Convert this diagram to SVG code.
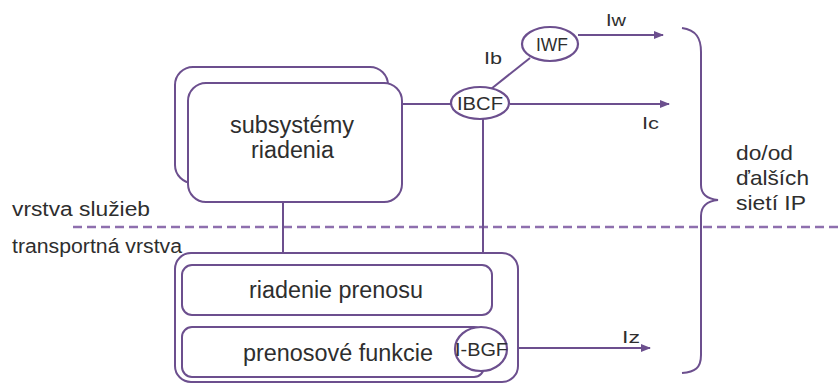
<svg xmlns="http://www.w3.org/2000/svg" width="840" height="384" viewBox="0 0 840 384">
  <style>
    .box { fill: #ffffff; stroke: #6c4f8e; stroke-width: 2; }
    .ell { fill: #ffffff; stroke: #6c4f8e; stroke-width: 2.2; }
    .ln { fill: none; stroke: #6c4f8e; stroke-width: 2; }
    .dash { fill: none; stroke: #8e6fae; stroke-width: 2.5; stroke-dasharray: 9 5; }
    text { font-family: "Liberation Sans", Arial, sans-serif; fill: #2e2e2e; }
    .big { font-size: 23px; }
    .ext { font-size: 21px; }
    .side { font-size: 20px; }
    .mid { font-size: 19px; }
    .sm { font-size: 16px; }
  </style>
  <defs>
    <marker id="arrow" markerWidth="10" markerHeight="8" refX="9" refY="4" orient="auto" markerUnits="userSpaceOnUse">
      <path d="M0,0 L10,4 L0,8 Z" fill="#6c4f8e"/>
    </marker>
  </defs>

  <rect width="840" height="384" fill="#ffffff"/>

  <!-- layer boundary -->
  <line class="dash" x1="73" y1="227" x2="840" y2="227"/>
  <text class="side" x="12" y="216" textLength="138" lengthAdjust="spacingAndGlyphs">vrstva služieb</text>
  <text class="side" x="12" y="253" textLength="170" lengthAdjust="spacingAndGlyphs">transportná vrstva</text>

  <!-- connectors -->
  <g id="connectors">
    <line class="ln" x1="402" y1="104" x2="451" y2="104"/>
    <line class="ln" x1="283" y1="202" x2="283" y2="253"/>
    <line class="ln" x1="483" y1="119" x2="483" y2="265"/>
    <line class="ln" x1="483" y1="315" x2="483" y2="328"/>
    <line class="ln" x1="333" y1="315" x2="333" y2="327"/>
    <line class="ln" x1="491" y1="89" x2="530" y2="58"/>
    <line class="ln" x1="578" y1="35" x2="663" y2="35" marker-end="url(#arrow)"/>
    <line class="ln" x1="510" y1="104" x2="669" y2="104" marker-end="url(#arrow)"/>
    <line class="ln" x1="507" y1="348" x2="650" y2="348" marker-end="url(#arrow)"/>
    <text class="sm" x="484" y="64" textLength="18" lengthAdjust="spacingAndGlyphs">Ib</text>
    <text class="sm" x="606" y="26" textLength="20" lengthAdjust="spacingAndGlyphs">Iw</text>
    <text class="sm" x="642" y="129" textLength="17" lengthAdjust="spacingAndGlyphs">Ic</text>
    <text class="sm" x="622" y="343" textLength="18" lengthAdjust="spacingAndGlyphs">Iz</text>
  </g>

  <!-- control subsystems (stacked) -->
  <g id="subsystemy">
    <rect class="box" x="175" y="67" width="213" height="116" rx="18"/>
    <rect class="box" x="188" y="83" width="214" height="119" rx="18"/>
    <text class="big" x="230" y="133" textLength="124" lengthAdjust="spacingAndGlyphs">subsystémy</text>
    <text class="big" x="251" y="158" textLength="83" lengthAdjust="spacingAndGlyphs">riadenia</text>
  </g>

  <!-- transport layer -->
  <g id="transport">
    <rect class="box" x="175" y="253" width="343" height="129" rx="16"/>
  </g>
  <g id="riadenie-prenosu">
    <rect class="box" x="182" y="265" width="310" height="50" rx="10"/>
    <text class="big" x="249" y="298" textLength="174" lengthAdjust="spacingAndGlyphs">riadenie prenosu</text>
  </g>
  <g id="prenosove-funkcie">
    <rect class="box" x="182" y="327" width="302" height="50" rx="10"/>
    <text class="big" x="243" y="361" textLength="190" lengthAdjust="spacingAndGlyphs">prenosové funkcie</text>
  </g>

  <!-- functions -->
  <g id="ibcf">
    <ellipse class="ell" cx="480" cy="103" rx="29" ry="16"/>
    <text class="mid" x="457" y="110" textLength="46" lengthAdjust="spacingAndGlyphs">IBCF</text>
  </g>
  <g id="iwf">
    <ellipse class="ell" cx="550" cy="44" rx="28" ry="17"/>
    <text class="mid" x="536" y="51" textLength="32" lengthAdjust="spacingAndGlyphs">IWF</text>
  </g>
  <g id="ibgf">
    <ellipse class="ell" cx="481" cy="349" rx="26" ry="22"/>
    <text class="mid" x="455" y="356" textLength="53" lengthAdjust="spacingAndGlyphs">I-BGF</text>
  </g>

  <!-- external networks -->
  <g id="externe-siete">
    <path class="ln" d="M682,28 C696,30 701,38 701,52 L701,185 C701,195 708,199 718,200 C708,201 701,206 701,216 L701,355 C701,368 695,372 682,373"/>
    <text class="ext" x="736" y="160" textLength="57" lengthAdjust="spacingAndGlyphs">do/od</text>
    <text class="ext" x="736" y="185" textLength="73" lengthAdjust="spacingAndGlyphs">ďalších</text>
    <text class="ext" x="736" y="210" textLength="70" lengthAdjust="spacingAndGlyphs">sietí IP</text>
  </g>
</svg>
